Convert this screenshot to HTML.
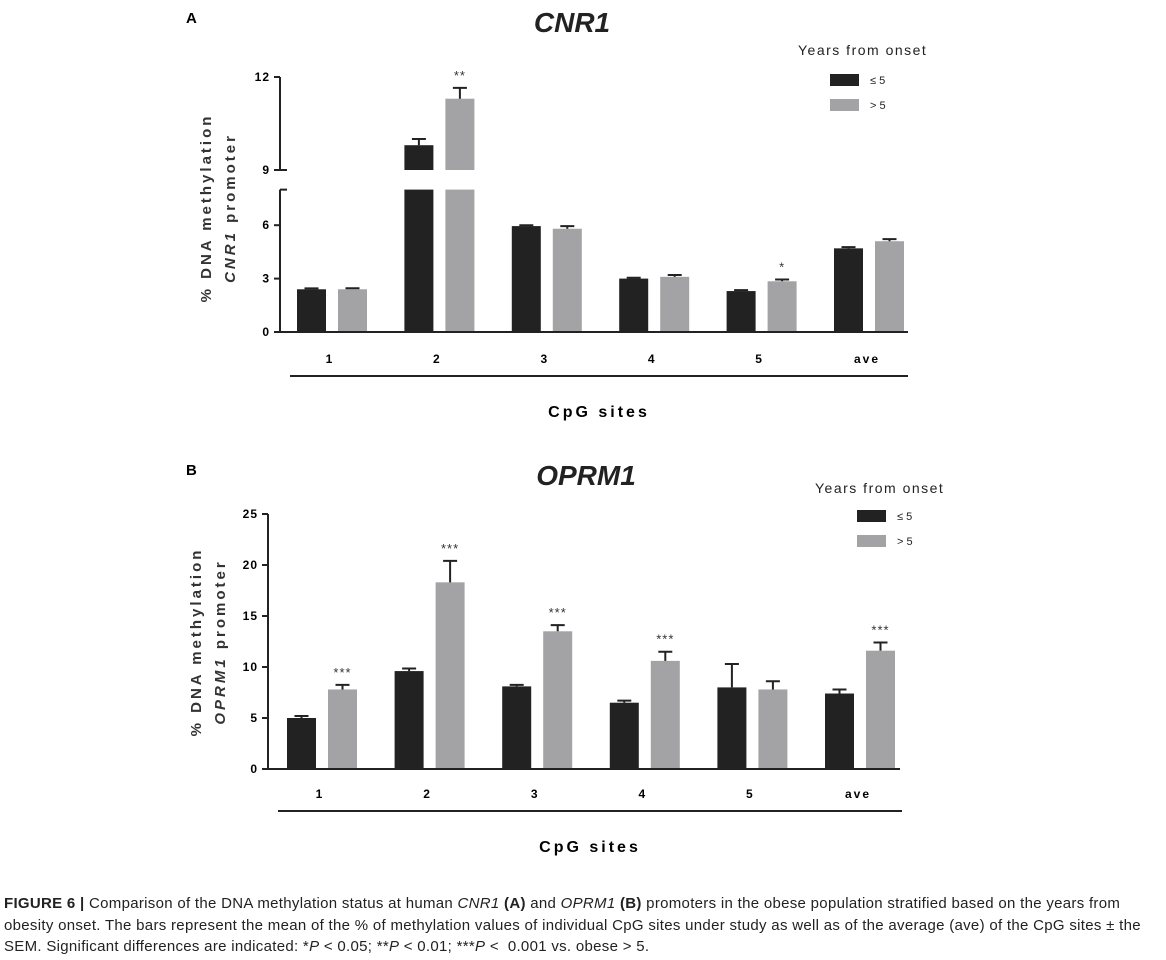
<!DOCTYPE html>
<html><head><meta charset="utf-8"><style>
body{margin:0;background:#fff;width:1166px;height:960px;overflow:hidden;font-family:"Liberation Sans",Arial,sans-serif}
svg text{font-family:"Liberation Sans",Arial,sans-serif}
#cap{position:absolute;left:4px;top:893px;width:1162px;font-size:15px;line-height:21.5px;color:#222;letter-spacing:0.3px;white-space:nowrap}
</style></head><body>
<svg id="fig" width="1166" height="880" style="position:absolute;left:0;top:0">
<text x="186" y="23" font-size="15" font-weight="bold">A</text>
<text x="572" y="32" font-size="28" font-weight="bold" font-style="italic" text-anchor="middle" fill="#222">CNR1</text>
<text x="186" y="475" font-size="15" font-weight="bold">B</text>
<text x="586" y="485" font-size="28" font-weight="bold" font-style="italic" text-anchor="middle" fill="#222">OPRM1</text>
<g id="A"></g><g id="B"></g>
</svg>
<div id="cap"><b>FIGURE 6 |</b> Comparison of the DNA methylation status at human <i>CNR1</i> <b>(A)</b> and <i>OPRM1</i> <b>(B)</b> promoters in the obese population stratified based on the years from<br>obesity onset. The bars represent the mean of the % of methylation values of individual CpG sites under study as well as of the average (ave) of the CpG sites ± the<br>SEM. Significant differences are indicated: *<i>P</i> &lt; 0.05; **<i>P</i> &lt; 0.01; ***<i>P</i> &lt;&nbsp; 0.001 vs. obese &gt; 5.</div>
<script>
const categories=["1","2","3","4","5","ave"];
const aBlack=[2.4,9.8,5.95,3.0,2.3,4.7];
const aBlackErr=[0.05,0.2,0.05,0.05,0.05,0.07];
const aGray=[2.4,11.3,5.8,3.1,2.85,5.1];
const aGrayErr=[0.06,0.35,0.15,0.1,0.1,0.12];
const aSig=["","**","","","*",""];
const aTicks=[0,3,6,9,12];
const bBlack=[5.0,9.6,8.1,6.5,8.0,7.4];
const bBlackErr=[0.2,0.25,0.15,0.2,2.3,0.4];
const bGray=[7.8,18.3,13.5,10.6,7.8,11.6];
const bGrayErr=[0.45,2.1,0.6,0.9,0.8,0.8];
const bSig=["***","***","***","***","","***"];
const bTicks=[0,5,10,15,20,25];
const NS="http://www.w3.org/2000/svg";
function mk(p,t,a,txt){const e=document.createElementNS(NS,t);for(const k in a)e.setAttribute(k,a[k]);if(txt!==undefined)e.textContent=txt;p.appendChild(e);return e;}
function yA(v){return v<=8?332-v*17.8:170-(v-9)*31;}
function yB(v){return 769-v*10.2;}
function panel(g,opt){
  const {y,ax,cx0,dx,black,bErr,gray,gErr,sig,ticks,broken}=opt;
  categories.forEach((c,i)=>{
    const cx=cx0+i*dx;
    [[black,bErr,cx-33,"#222"],[gray,gErr,cx+8,"#a3a3a5"]].forEach(([vals,errs,x,col],k)=>{
      const v=vals[i],e=errs[i];
      if(broken&&v>9){
        const r1=mk(g,"rect",{x:x,y:y(8),width:29,height:y(0)-y(8),fill:col});
        
        
        const r2=mk(g,"rect",{x:x,y:y(v),width:29,height:y(9)-y(v),fill:col});
        
        
      }else{
        const r=mk(g,"rect",{x:x,y:y(v),width:29,height:y(0)-y(v),fill:col});
        
        
      }
      const xm=x+14.5;
      const eb=mk(g,"path",{d:`M${xm} ${y(v)}V${y(v+e)}M${xm-7} ${y(v+e)}H${xm+7}`,stroke:"#222","stroke-width":2,fill:"none"});
      
      
      if(k===1&&sig[i]){
        const s=mk(g,"text",{x:xm,y:y(v+e)-8,"font-size":13,"text-anchor":"middle",fill:"#333","letter-spacing":"1"},sig[i]);
        
        
      }
    });
    const t=mk(g,"text",{x:cx,y:opt.labY,"font-size":12,"font-weight":"bold","text-anchor":"middle","letter-spacing":"2"},c);
    
    
  });
  if(broken){
    mk(g,"path",{d:`M${ax} ${y(0)}V${y(8)}M${ax} ${y(9)}V${y(12)}M${ax} ${y(8)}h7M${ax} ${y(9)}h7`,stroke:"#222","stroke-width":2,fill:"none"});
  }else{
    mk(g,"path",{d:`M${ax} ${y(0)}V${y(ticks[ticks.length-1])}`,stroke:"#222","stroke-width":2});
  }
  mk(g,"path",{d:`M${ax-5} ${y(0)}H${opt.xEnd}`,stroke:"#222","stroke-width":2});
  ticks.forEach(v=>{
    mk(g,"path",{d:`M${ax-6} ${y(v)}H${ax}`,stroke:"#222","stroke-width":2});
    const t=mk(g,"text",{x:ax-10,y:y(v)+4,"font-size":12,"font-weight":"bold","text-anchor":"end","letter-spacing":"1"},v);
    
    
  });
  mk(g,"path",{d:`M${opt.brX1} ${opt.brY}H${opt.brX2}`,stroke:"#222","stroke-width":2});
  const xt=mk(g,"text",{x:(opt.brX1+opt.brX2)/2,y:opt.brY+41,"font-size":16,"font-weight":"bold","text-anchor":"middle","letter-spacing":"3"},"CpG sites");
  
  
  const yt=mk(g,"text",{transform:`translate(${opt.yt1x},${opt.ytY}) rotate(-90)`,"font-size":15,"font-weight":"bold","text-anchor":"middle","letter-spacing":"3",fill:"#333"},"% DNA methylation");
  
  
  const yt2=mk(g,"text",{transform:`translate(${opt.yt1x+24},${opt.ytY}) rotate(-90)`,"font-size":15,"font-weight":"bold","text-anchor":"middle","letter-spacing":"3",fill:"#333"});
  mk(yt2,"tspan",{"font-style":"italic"},opt.gene);mk(yt2,"tspan",{},"  promoter");
  
  
  const L=opt.leg;
  const lt=mk(g,"text",{x:L.x,y:L.y,"font-size":14,"letter-spacing":"1.5",fill:"#222"},"Years from onset");
  
  
  [["#222","≤ 5",0],["#a3a3a5","> 5",1]].forEach(([col,lab,k])=>{
    const r=mk(g,"rect",{x:L.sx,y:L.sy+k*25,width:29,height:12,fill:col});
    
    
    const t=mk(g,"text",{x:L.sx+40,y:L.sy+k*25+10,"font-size":11,fill:"#222"},lab);
    
    
  });
}
panel(document.getElementById("A"),{y:yA,ax:280,cx0:330,dx:107.4,black:aBlack,bErr:aBlackErr,gray:aGray,gErr:aGrayErr,sig:aSig,ticks:aTicks,broken:true,labY:363,xEnd:908,brX1:290,brX2:908,brY:376,yt1x:211,ytY:208,gene:"CNR1",leg:{x:798,y:55,sx:830,sy:74}});
panel(document.getElementById("B"),{y:yB,ax:268,cx0:320,dx:107.6,black:bBlack,bErr:bBlackErr,gray:bGray,gErr:bGrayErr,sig:bSig,ticks:bTicks,broken:false,labY:798,xEnd:900,brX1:278,brX2:902,brY:811,yt1x:201,ytY:642,gene:"OPRM1",leg:{x:815,y:493,sx:857,sy:510}});
</script>
</body></html>
